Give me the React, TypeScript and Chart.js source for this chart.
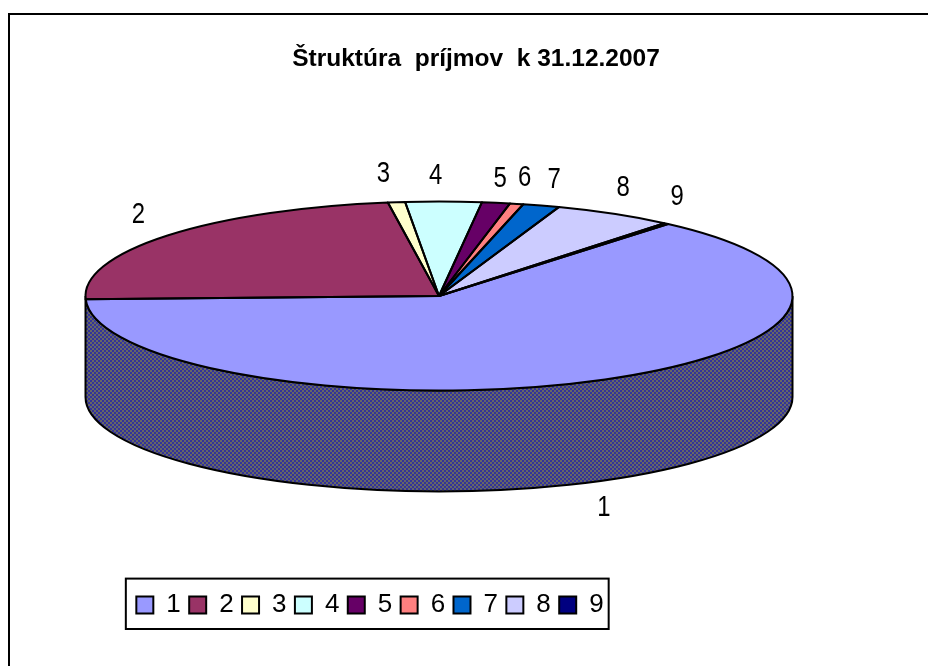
import React, { useEffect, useRef } from "react";
import { Chart, registerables } from "chart.js";

Chart.register(...registerables);

const titleText = "Štruktúra  príjmov  k 31.12.2007";
const categories = ["1", "2", "3", "4", "5", "6", "7", "8", "9"];
const shares = [63.2, 23.25, 0.78, 3.47, 1.28, 0.61, 1.67, 5.5, 0.22];
const sliceColors = ["#9999FF", "#993366", "#FFFFCC", "#CCFFFF", "#660066", "#FF8080", "#0066CC", "#CCCCFF", "#000080"];
const firstSliceAngle = 40.4;

// Look of the tilted pie
const pieCenterX = 439;
const pieCenterY = 296;
const radiusX = 353.5;
const radiusY = 94.5;
const wallDepth = 101;
const labelNudges = [
  [11, 26], [-29, -21], [-13, -28], [-8, -26], [4, -24], [8, -26], [13, -26], [9, -26], [11, -27],
];
const FONT = "'Liberation Sans', Arial, sans-serif";

function checker(ctx: CanvasRenderingContext2D) {
  const c = document.createElement("canvas");
  c.width = 4;
  c.height = 4;
  const p = c.getContext("2d")!;
  p.fillStyle = "#333399";
  p.fillRect(0, 0, 4, 4);
  p.fillStyle = "#666666";
  p.fillRect(0, 0, 2, 2);
  p.fillRect(2, 2, 2, 2);
  return ctx.createPattern(c, "repeat")!;
}

const tiltedPie = {
  id: "tiltedPie",
  afterLayout(chart: any) {
    // the title is centred on the plot frame, not on the legend's column
    chart.titleBlock.left = 24;
    chart.titleBlock.right = 928;
  },
  beforeDraw(chart: any) {
    const { ctx, width, height } = chart;
    ctx.save();
    ctx.fillStyle = "#fff";
    ctx.fillRect(0, 0, width, height);
    ctx.strokeStyle = "#000";
    ctx.lineWidth = 2;
    ctx.beginPath();
    ctx.moveTo(9, height);
    ctx.lineTo(9, 14);
    ctx.lineTo(width, 14);
    ctx.stroke();
    // legend frame
    const hit = chart.legend.legendHitBoxes;
    const left = hit[0].left - 10.5;
    const right = hit[hit.length - 1].left + hit[hit.length - 1].width + 5;
    ctx.strokeRect(left, chart.legend.top - 5, right - left, chart.legend.height + 6);
    ctx.restore();
  },
  beforeDatasetsDraw(chart: any) {
    const { ctx } = chart;
    const arcs = chart.getDatasetMeta(0).data;
    ctx.save();
    const pattern = checker(ctx);
    const path = (a0: number, a1: number) => {
      ctx.beginPath();
      ctx.ellipse(pieCenterX, pieCenterY, radiusX, radiusY, 0, a0, a1);
      ctx.ellipse(pieCenterX, pieCenterY + wallDepth, radiusX, radiusY, 0, a1, a0, true);
      ctx.closePath();
    };
    for (const arc of arcs) {
      const s = arc.startAngle;
      const e = arc.endAngle;
      // the wall is only seen on the front half of the rim (0..PI)
      for (const shift of [0, Math.PI * 2, -Math.PI * 2]) {
        const a0 = Math.max(s + shift, 0);
        const a1 = Math.min(e + shift, Math.PI);
        if (a1 > a0) {
          path(a0, a1);
          ctx.fillStyle = pattern;
          ctx.fill();
        }
      }
    }
    path(0, Math.PI);
    ctx.strokeStyle = "#000";
    ctx.lineWidth = 2;
    ctx.stroke();
    ctx.restore();

    // squash the library's circular pie into the ellipse
    const first = arcs[0];
    ctx.save();
    ctx.translate(pieCenterX, pieCenterY);
    ctx.scale(radiusX / first.outerRadius, radiusY / first.outerRadius);
    ctx.translate(-first.x, -first.y);
  },
  afterDatasetsDraw(chart: any) {
    const { ctx } = chart;
    ctx.restore();
    const arcs = chart.getDatasetMeta(0).data;
    ctx.save();
    ctx.strokeStyle = "#000";
    ctx.lineWidth = 2;
    ctx.lineJoin = "round";
    for (const arc of arcs) {
      ctx.beginPath();
      ctx.moveTo(pieCenterX, pieCenterY);
      ctx.ellipse(pieCenterX, pieCenterY, radiusX, radiusY, 0, arc.startAngle, arc.endAngle);
      ctx.closePath();
      ctx.stroke();
    }
    ctx.fillStyle = "#000";
    ctx.font = `26px ${FONT}`;
    ctx.textAlign = "center";
    ctx.textBaseline = "middle";
    arcs.forEach((arc: any, i: number) => {
      const mid = (arc.startAngle + arc.endAngle) / 2;
      const sin = Math.sin(mid);
      const x = pieCenterX + radiusX * Math.cos(mid);
      const y = pieCenterY + radiusY * sin + (sin > 0 ? wallDepth : 0);
      // the reference's digits are tall and narrow
      ctx.save();
      ctx.translate(x + labelNudges[i][0], y + labelNudges[i][1]);
      ctx.scale(0.92, 1.12);
      ctx.fillText(chart.data.labels[i], 0, 0);
      ctx.restore();
    });
    ctx.restore();
  },
};

export default function App() {
  const ref = useRef<HTMLCanvasElement>(null);
  useEffect(() => {
    document.body.style.margin = "0";
    const chart = new Chart(ref.current!, {
      type: "pie",
      data: {
        labels: categories,
        datasets: [
          {
            data: shares,
            backgroundColor: sliceColors,
            borderWidth: 0,
            clip: false,
          } as any,
        ],
      },
      options: {
        responsive: false,
        animation: false,
        rotation: firstSliceAngle,
        radius: radiusX,
        layout: { padding: { left: 0, right: 188, top: 0, bottom: 38 } },
        plugins: {
          tooltip: { enabled: false },
          title: {
            display: true,
            text: titleText,
            color: "#000",
            font: { family: FONT, size: 24.5, weight: "bold" },
            padding: { top: 45, bottom: 10 },
          },
          legend: {
            position: "bottom",
            labels: {
              boxWidth: 17,
              boxHeight: 17,
              padding: 8.4,
              color: "#000",
              font: { family: FONT, size: 26 },
              generateLabels: () =>
                categories.map((text, i) => ({
                  text,
                  fillStyle: sliceColors[i],
                  strokeStyle: "#000",
                  lineWidth: 2,
                  index: i,
                  hidden: false,
                })),
            },
          },
        },
      } as any,
      plugins: [tiltedPie],
    });
    return () => chart.destroy();
  }, []);
  return (
    <div style={{ position: "absolute", left: 0, top: 0, width: 928, height: 666, overflow: "hidden" }}>
      <canvas ref={ref} width={928} height={666} style={{ display: "block" }} />
    </div>
  );
}
